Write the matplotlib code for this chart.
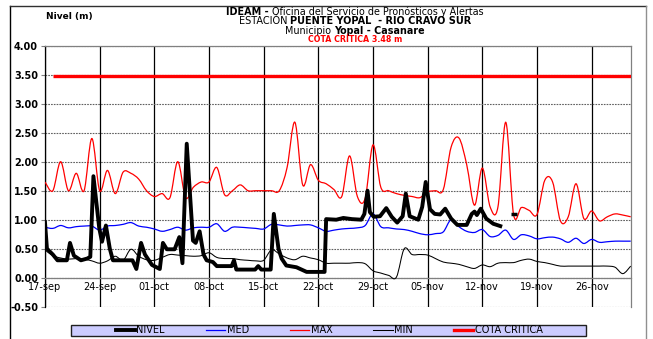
import datetime as dt

import matplotlib
matplotlib.use("Agg")
import matplotlib.dates as mdates
import matplotlib.pyplot as plt
import numpy as np
from matplotlib.lines import Line2D
from matplotlib.patches import PathPatch, Rectangle
from matplotlib.path import Path
from matplotlib.ticker import FixedLocator, FuncFormatter, MultipleLocator

plt.rcParams["font.family"] = ["DejaVu Sans"]

# ---------------------------------------------------------------- data
inicio = dt.datetime(2013, 9, 17)
cota_critica = 3.48

# daily historical statistics, 17-sep .. 01-dic
nivel_max = [1.65, 1.50, 2.00, 1.50, 1.80, 1.50, 2.40, 1.50, 1.85, 1.45,
             1.82, 1.80, 1.70, 1.50, 1.40, 1.45, 1.38, 2.00, 1.38, 1.56,
             1.65, 1.65, 1.90, 1.43, 1.50, 1.60, 1.50, 1.50, 1.50, 1.50,
             1.50, 1.90, 2.68, 1.60, 1.95, 1.68, 1.62, 1.52, 1.40, 2.10,
             1.40, 1.37, 2.29, 1.56, 1.50, 1.45, 1.42, 1.40, 1.38, 1.48,
             1.50, 1.52, 2.25, 2.41, 1.95, 1.25, 1.89, 1.22, 1.22, 2.68,
             1.09, 1.21, 1.16, 1.09, 1.68, 1.65, 0.98, 1.05, 1.62, 1.02,
             1.15, 0.98, 1.05, 1.10, 1.08, 1.05]
nivel_med = [0.87, 0.85, 0.90, 0.86, 0.88, 0.89, 0.89, 0.82, 0.89, 0.90,
             0.92, 0.95, 0.89, 0.87, 0.84, 0.80, 0.83, 0.87, 0.82, 0.86,
             0.87, 0.87, 0.93, 0.80, 0.87, 0.87, 0.86, 0.85, 0.84, 0.92,
             0.91, 0.89, 0.90, 0.91, 0.91, 0.86, 0.80, 0.82, 0.84, 0.85,
             0.86, 0.90, 1.10, 0.88, 0.86, 0.84, 0.83, 0.80, 0.76, 0.74,
             0.76, 0.79, 1.00, 0.88, 0.80, 0.78, 0.83, 0.71, 0.73, 0.82,
             0.66, 0.74, 0.72, 0.67, 0.69, 0.70, 0.67, 0.61, 0.68, 0.59,
             0.66, 0.61, 0.62, 0.63, 0.63, 0.63]
nivel_min = [0.48, 0.38, 0.34, 0.32, 0.33, 0.32, 0.29, 0.25, 0.29, 0.37,
             0.30, 0.49, 0.37, 0.31, 0.30, 0.35, 0.40, 0.39, 0.38, 0.37,
             0.38, 0.43, 0.35, 0.33, 0.33, 0.31, 0.30, 0.29, 0.30, 0.48,
             0.41, 0.34, 0.31, 0.37, 0.34, 0.31, 0.25, 0.25, 0.25, 0.25,
             0.26, 0.24, 0.12, 0.08, 0.04, 0.01, 0.50, 0.40, 0.40, 0.39,
             0.33, 0.27, 0.25, 0.23, 0.19, 0.16, 0.22, 0.19, 0.25, 0.26,
             0.26, 0.30, 0.32, 0.28, 0.26, 0.23, 0.20, 0.20, 0.20, 0.20,
             0.20, 0.20, 0.20, 0.18, 0.07, 0.20]

# observed stage readings: time (days after 17-sep) and level (m)
lectura_dia = [0.0, 0.25, 1.0, 1.6, 2.8, 3.2, 3.7, 4.6, 5.4, 5.8,
               6.2, 6.95, 7.3, 7.8, 8.3, 8.7, 11.2, 11.7, 12.3, 12.8,
               13.7, 14.7, 15.1, 15.6, 16.6, 17.2, 17.6, 18.15, 18.95, 19.3,
               19.8, 20.3, 20.7, 21.5, 22.0, 23.9, 24.2, 24.5, 26.9, 27.3,
               27.7, 28.9, 29.3, 29.9, 30.3, 30.9, 32.2, 33.5, 35.8, 36.0,
               37.3, 38.2, 39.3, 40.5, 40.9, 41.3, 41.6, 42.1, 42.9, 43.7,
               44.4, 45.1, 45.8, 46.2, 46.7, 47.8, 48.3, 48.75, 49.3, 49.9,
               50.6, 51.25, 52.0, 52.8, 54.0, 54.65, 55.0, 55.3, 55.8, 56.5,
               57.4, 58.3]
lectura_nivel = [0.95, 0.50, 0.40, 0.30, 0.30, 0.60, 0.38, 0.30, 0.33, 0.36,
                 1.75, 0.85, 0.62, 0.90, 0.50, 0.30, 0.30, 0.15, 0.60, 0.40,
                 0.22, 0.15, 0.60, 0.49, 0.49, 0.70, 0.25, 2.31, 0.64, 0.60,
                 0.80, 0.40, 0.30, 0.27, 0.20, 0.20, 0.30, 0.14, 0.14, 0.20,
                 0.14, 0.14, 1.10, 0.50, 0.33, 0.21, 0.18, 0.10, 0.10, 1.01,
                 1.00, 1.03, 1.01, 1.00, 1.10, 1.50, 1.13, 1.05, 1.06, 1.20,
                 1.05, 0.95, 1.06, 1.45, 1.06, 1.00, 1.22, 1.65, 1.18, 1.10,
                 1.09, 1.19, 1.02, 0.91, 0.91, 1.10, 1.14, 1.08, 1.19, 1.02,
                 0.93, 0.89]
lectura_aislada_dia = [60.0]
lectura_aislada_nivel = [1.10]

cota_dias = [1, 75]

meses = {9: "sep", 10: "oct", 11: "nov", 12: "dic"}

# ---------------------------------------------------------------- layout
W, H = 653, 339
fig = plt.figure(figsize=(W / 100, H / 100), dpi=100)
ax = fig.add_axes([45 / W, 1 - 306.7 / H, (630.7 - 45) / W, (306.7 - 45.7) / H])

t0 = mdates.date2num(inicio)
x_diario = t0 + np.arange(len(nivel_max))


def curva_suave(x, y):
    """Smoothed (Catmull-Rom style) Bezier path through the points."""
    p = np.column_stack([x, y]).astype(float)
    n = len(p)
    verts = [p[0]]
    codes = [Path.MOVETO]
    for i in range(n - 1):
        p0 = p[max(i - 1, 0)]
        p1 = p[i]
        p2 = p[i + 1]
        p3 = p[min(i + 2, n - 1)]
        verts += [p1 + (p2 - p0) / 6.0, p2 - (p3 - p1) / 6.0, p2]
        codes += [Path.CURVE4] * 3
    return Path(verts, codes)


for serie, color, lw in [(nivel_min, "black", 0.75),
                         (nivel_med, "#0000FF", 0.9),
                         (nivel_max, "#FF0000", 0.9)]:
    ax.add_patch(PathPatch(curva_suave(x_diario, serie), fill=False,
                           edgecolor=color, lw=lw, zorder=3))

ax.plot(t0 + np.array(cota_dias), [cota_critica] * len(cota_dias),
        color="#FF0000", lw=2.4, solid_capstyle="butt", zorder=4)

ax.plot(t0 + np.array(lectura_dia), lectura_nivel, color="black", lw=2.8,
        solid_joinstyle="round", zorder=5)
ax.plot(t0 + np.array(lectura_aislada_dia), lectura_aislada_nivel,
        color="black", marker="_", ms=4, mew=2.5, ls="none", zorder=5)

# axes
ax.set_xlim(t0, t0 + 75)
ax.set_ylim(-0.5, 4.0)
ax.yaxis.set_major_locator(MultipleLocator(0.5))
ax.yaxis.set_major_formatter(FuncFormatter(lambda v, p: f"{v:.2f}"))
ax.xaxis.set_major_locator(FixedLocator(t0 + np.arange(0, 75, 7)))
ax.xaxis.set_major_formatter(FuncFormatter(
    lambda v, p: f"{mdates.num2date(v).day:02d}-{meses[mdates.num2date(v).month]}"))

ax.grid(axis="y", color="#606060", lw=0.8, ls=(0, (1.5, 1)), zorder=1)
ax.grid(axis="x", color="black", lw=0.9, ls="-", zorder=1)

for lab in ax.get_yticklabels() + ax.get_xticklabels():
    lab.set_fontweight("bold")
ax.tick_params(axis="y", labelsize=7, length=3, color="#808080", pad=2)
ax.tick_params(axis="x", labelsize=7, length=0, pad=3)

ax.spines["bottom"].set_position(("data", 0))
ax.spines["bottom"].set_color("#808080")
ax.spines["left"].set_color("black")
ax.spines["top"].set_color("#808080")
ax.spines["right"].set_color("#808080")
for s in ax.spines.values():
    s.set_linewidth(0.9)

fig.text(46 / W, 1 - 16 / H, "Nivel (m)", fontsize=6.5, fontweight="bold",
         ha="left", va="center")

# title block, mixed weights on one line
renderer = fig.canvas.get_renderer()


def linea(y_px, partes, size, cx=355):
    objs = []
    for txt, peso, color in partes:
        objs.append(fig.text(0, 1 - y_px / H, txt, fontsize=size,
                             fontweight=peso, color=color,
                             ha="left", va="center"))
    gap = size * 100 / 72 * 0.32
    widths = [t.get_window_extent(renderer).width for t in objs]
    total = sum(widths) + gap * (len(objs) - 1)
    x = cx - total / 2
    for t, w in zip(objs, widths):
        t.set_x(x / W)
        x += w + gap


linea(12.0, [("IDEAM -", "bold", "black"),
             ("Oficina del Servicio de Pronósticos y Alertas", "normal", "black")], 6.9)
linea(21.4, [("ESTACIÓN", "normal", "black"),
             ("PUENTE YOPAL  - RIO CRAVO SUR", "bold", "black")], 7.0)
linea(31.3, [("Municipio", "normal", "black"),
             ("Yopal - Casanare", "bold", "black")], 6.9)
linea(39.8, [(f"COTA CRÍTICA {cota_critica:.2f} m", "bold", "#FF0000")], 5.7)

# legend box
fig.add_artist(Rectangle((70.7 / W, 1 - 335.7 / H), (586 - 70.7) / W, 10.7 / H,
                         transform=fig.transFigure, facecolor="#CCCCFF",
                         edgecolor="#202020", lw=1.0))
handles = [Line2D([], [], color="black", lw=2.8),
           Line2D([], [], color="#0000FF", lw=0.9),
           Line2D([], [], color="#FF0000", lw=0.9),
           Line2D([], [], color="black", lw=0.75),
           Line2D([], [], color="#FF0000", lw=2.4)]
fig.legend(handles, ["NIVEL", "MED", "MAX", "MIN", "COTA CRITICA"],
           loc="center", bbox_to_anchor=(329 / W, 1 - 330.4 / H), ncol=5,
           frameon=False, fontsize=7, handlelength=2.0, handletextpad=0.15,
           columnspacing=4.2, borderpad=0, borderaxespad=0)

# outer chart frame
fig.add_artist(Line2D([9.5 / W, 9.5 / W], [1 - 5.5 / H, 0], transform=fig.transFigure,
                      color="black", lw=1.0))
fig.add_artist(Line2D([9.5 / W, 645.5 / W], [1 - 5.5 / H, 1 - 5.5 / H],
                      transform=fig.transFigure, color="#303030", lw=1.0))
fig.add_artist(Line2D([645.5 / W, 645.5 / W], [1 - 5.5 / H, 0], transform=fig.transFigure,
                      color="#909090", lw=1.0))

fig.savefig("out.png", dpi=100)
